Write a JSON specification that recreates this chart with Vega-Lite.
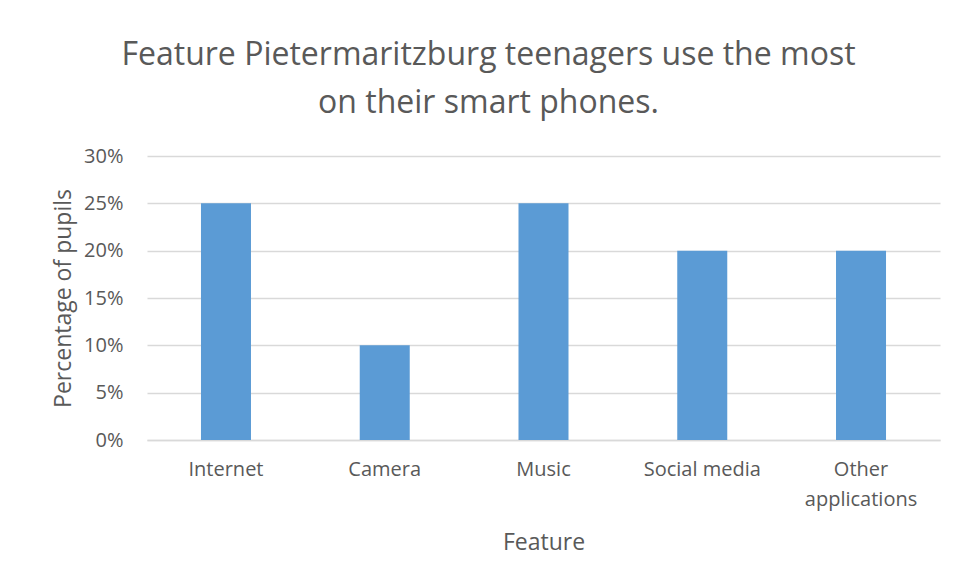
{
  "$schema": "https://vega.github.io/schema/vega-lite/v6.json",
  "autosize": {"type": "none"},
  "width": 793,
  "height": 284,
  "padding": {"left": 147, "top": 156, "right": 17, "bottom": 140},
  "background": "white",
  "config": {
    "font": "Open Sans",
    "view": {"stroke": null}
  },
  "title": {
    "text": ["Feature Pietermaritzburg teenagers use the most", "on their smart phones."],
    "fontSize": 32,
    "fontWeight": "normal",
    "color": "#595959",
    "font": "Open Sans",
    "anchor": "middle",
    "dx": -55,
    "offset": 26,
    "lineHeight": 48
  },
  "data": {
    "values": [
      {"feature": "Internet", "pct": 0.25},
      {"feature": "Camera", "pct": 0.10},
      {"feature": "Music", "pct": 0.25},
      {"feature": "Social media", "pct": 0.20},
      {"feature": "Other applications", "pct": 0.20}
    ]
  },
  "mark": {"type": "bar", "color": "#5B9BD5"},
  "encoding": {
    "x": {
      "field": "feature",
      "type": "nominal",
      "sort": null,
      "scale": {"paddingInner": 0.685, "paddingOuter": 0.34},
      "axis": {
        "title": "Feature",
        "titleFontSize": 23,
        "titleFontWeight": "normal",
        "titleColor": "#595959",
        "titlePadding": 22,
        "labelAngle": 0,
        "labelFontSize": 20,
        "labelColor": "#595959",
        "labelPadding": 19,
        "labelLineHeight": 30,
        "labelExpr": "datum.label == 'Other applications' ? ['Other', 'applications'] : datum.label",
        "ticks": false,
        "domainColor": "#d9d9d9",
        "domainWidth": 1.5
      }
    },
    "y": {
      "field": "pct",
      "type": "quantitative",
      "scale": {"domain": [0, 0.3]},
      "axis": {
        "title": "Percentage of pupils",
        "titleFontSize": 23,
        "titleFontWeight": "normal",
        "titleColor": "#595959",
        "titlePadding": 8,
        "format": ".0%",
        "values": [0, 0.05, 0.1, 0.15, 0.2, 0.25, 0.3],
        "labelFontSize": 20,
        "labelColor": "#595959",
        "labelPadding": 24,
        "ticks": false,
        "domain": false,
        "gridColor": "#d9d9d9",
        "gridWidth": 1.5
      }
    }
  }
}
